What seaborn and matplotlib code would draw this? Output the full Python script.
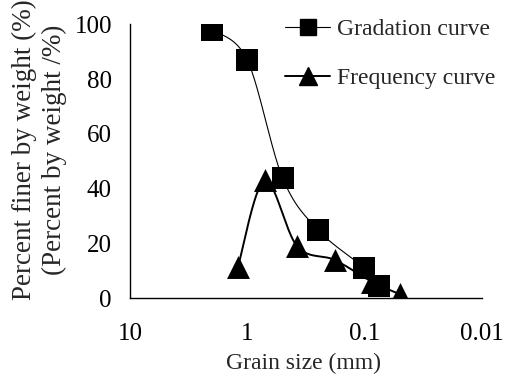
import numpy as np
import pandas as pd
import matplotlib
matplotlib.use("Agg")
import matplotlib.pyplot as plt
from matplotlib.lines import Line2D
import seaborn as sns

# Sieve data
grad_size = [2.0, 1.0, 0.5, 0.25, 0.1, 0.075]          # mm
grad_pct = [98, 87, 44, 25, 11, 4.5]                   # percent finer
freq_size = [1.2, 0.71, 0.375, 0.18, 0.086, 0.05]      # mm
freq_pct = [11.5, 43, 19, 14, 6, 1.5]                  # percent by weight

x_ticks = [10, 1, 0.1, 0.01]
x_tick_labels = ["10", "1", "0.1", "0.01"]
y_ticks = [0, 20, 40, 60, 80, 100]


def smooth_curve(xs, ys, n=40):
    """Catmull-Rom style smoothing in (log10 x, y) space, as used for smoothed line charts."""
    lx = np.log10(np.asarray(xs, float))
    y = np.asarray(ys, float)
    px = np.concatenate([[lx[0]], lx, [lx[-1]]])
    py = np.concatenate([[y[0]], y, [y[-1]]])
    out_x, out_y = [], []
    t = np.linspace(0, 1, n)
    for i in range(1, len(px) - 2):
        p0 = np.array([px[i], py[i]])
        p3 = np.array([px[i + 1], py[i + 1]])
        c1 = p0 + (np.array([px[i + 1], py[i + 1]]) - np.array([px[i - 1], py[i - 1]])) / 6
        c2 = p3 - (np.array([px[i + 2], py[i + 2]]) - np.array([px[i], py[i]])) / 6
        b = ((1 - t) ** 3)[:, None] * p0 + (3 * (1 - t) ** 2 * t)[:, None] * c1 \
            + (3 * (1 - t) * t ** 2)[:, None] * c2 + (t ** 3)[:, None] * p3
        out_x.extend(b[:, 0])
        out_y.extend(b[:, 1])
    return 10 ** np.array(out_x), np.array(out_y)


sns.set_theme(style="white")
plt.rcParams["font.family"] = ["Liberation Serif", "DejaVu Serif"]

fig = plt.figure(figsize=(5.05, 3.76), dpi=100)
ax = fig.add_axes([0.2574, 0.2066, 0.6965, 0.7288])
ax.set_xscale("log")

# Frequency curve
fx, fy = smooth_curve(freq_size, freq_pct)
sns.lineplot(x=fx, y=fy, sort=False, estimator=None, ax=ax, color="black", lw=1.4, zorder=2)
sns.scatterplot(x=freq_size, y=freq_pct, ax=ax, marker="^", s=16.5 ** 2,
                color="black", linewidth=0, zorder=3)

# Gradation curve
gx, gy = smooth_curve(grad_size, grad_pct)
sns.lineplot(x=gx, y=gy, sort=False, estimator=None, ax=ax, color="black", lw=0.8, zorder=4)
sns.scatterplot(x=grad_size, y=grad_pct, ax=ax, marker="s", s=16 ** 2,
                color="black", linewidth=0, zorder=5)

ax.set_xlim(10, 0.01)
ax.set_ylim(0, 100)
ax.set_xticks(x_ticks)
ax.set_xticklabels(x_tick_labels)
ax.xaxis.set_minor_locator(matplotlib.ticker.NullLocator())
ax.set_yticks(y_ticks)
ax.tick_params(axis="both", direction="in", length=6, width=0.8, color="#555555",
               labelsize=18, colors="black")
ax.tick_params(axis="x", pad=18)
ax.tick_params(axis="y", pad=13)
for side in ("top", "right"):
    ax.spines[side].set_visible(False)
for side in ("left", "bottom"):
    ax.spines[side].set_color("black")
    ax.spines[side].set_linewidth(1.0)
ax.set_xlabel("")
ax.set_ylabel("")

fig.text(0.600, 0.018, "Grain size (mm)", ha="center", va="baseline", fontsize=17)
fig.text(0.078, 1 - 150 / 376, "Percent finer by weight (%)\n(Percent by weight /%)",
         rotation=90, ha="center", va="center", fontsize=19.5, linespacing=1.25)

handles = [
    Line2D([], [], color="black", lw=0.8, marker="s", markersize=11),
    Line2D([], [], color="black", lw=1.4, marker="^", markersize=13),
]
ax.legend(handles, ["Gradation curve", "Frequency curve"], loc="upper left",
          bbox_to_anchor=(0.415, 1.055), frameon=False, fontsize=17,
          handlelength=1.9, handletextpad=0.3, labelspacing=1.15, borderaxespad=0)

fig.savefig("out.png", dpi=100)
